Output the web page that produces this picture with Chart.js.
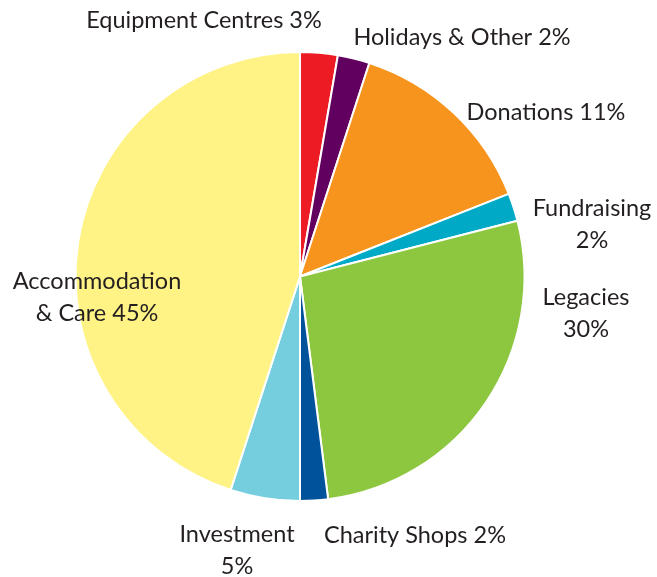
<!DOCTYPE html>
<html>
<head>
<meta charset="utf-8">
<script src="https://cdn.jsdelivr.net/npm/chart.js@4/dist/chart.umd.min.js"></script>
<style>
    html, body { margin: 0; padding: 0; background: #fff; }
    #wrap { width: 657px; height: 577px; position: relative; }
</style>
</head>
<body>
<div id="wrap"><canvas id="pie"></canvas></div>
<script>
// Income categories, clockwise from 12 o'clock
const categories = ['Equipment Centres', 'Holidays & Other', 'Donations', 'Fundraising',
    'Legacies', 'Charity Shops', 'Investment', 'Accommodation & Care'];

// Slice sizes as drawn in the picture
const shares = [2.7, 2.3, 14, 2, 27, 2, 5, 45];

// Label text as printed (one entry per line)
const labelLines = [
    ['Equipment Centres 3%'],
    ['Holidays & Other 2%'],
    ['Donations 11%'],
    ['Fundraising', '2%'],
    ['Legacies', '30%'],
    ['Charity Shops 2%'],
    ['Investment', '5%'],
    ['Accommodation', '& Care 45%']
];

const sliceColours = ['#ED1C24', '#62005F', '#F7941D', '#00A9C5',
    '#8DC63F', '#00529B', '#74CEDE', '#FFF385'];

// Label block centres, offset from the pie centre
const labelOffsets = [
    [-96, -256], [162, -239], [246, -164], [292, -52],
    [286, 37], [115, 259], [-63, 274], [-203, 21]
];

// Draw the outside labels
const outsideLabels = {
    id: 'outsideLabels',
    afterDatasetsDraw(chart) {
        const ctx = chart.ctx;
        const arc = chart.getDatasetMeta(0).data[0];
        const lineHeight = 32;
        ctx.save();
        ctx.font = '23.5px Lato';
        ctx.fillStyle = '#231F20';
        ctx.textAlign = 'center';
        ctx.textBaseline = 'middle';
        labelLines.forEach(function(lines, i) {
            const cx = arc.x + labelOffsets[i][0];
            const cy = arc.y + labelOffsets[i][1];
            const top = cy - (lines.length - 1) * lineHeight / 2;
            lines.forEach(function(line, j) {
                ctx.fillText(line, cx, top + j * lineHeight);
            });
        });
        ctx.restore();
    }
};

new Chart(document.getElementById('pie'), {
    type: 'pie',
    data: {
        labels: categories,
        datasets: [{
            data: shares,
            backgroundColor: sliceColours,
            borderColor: '#ffffff',
            borderWidth: 2
        }]
    },
    options: {
        responsive: true,
        maintainAspectRatio: false,
        animation: false,
        layout: {
            padding: { left: 74, right: 131, top: 51, bottom: 75 }
        },
        plugins: {
            legend: { display: false },
            tooltip: { enabled: false }
        }
    },
    plugins: [outsideLabels]
});
</script>
</body>
</html>
